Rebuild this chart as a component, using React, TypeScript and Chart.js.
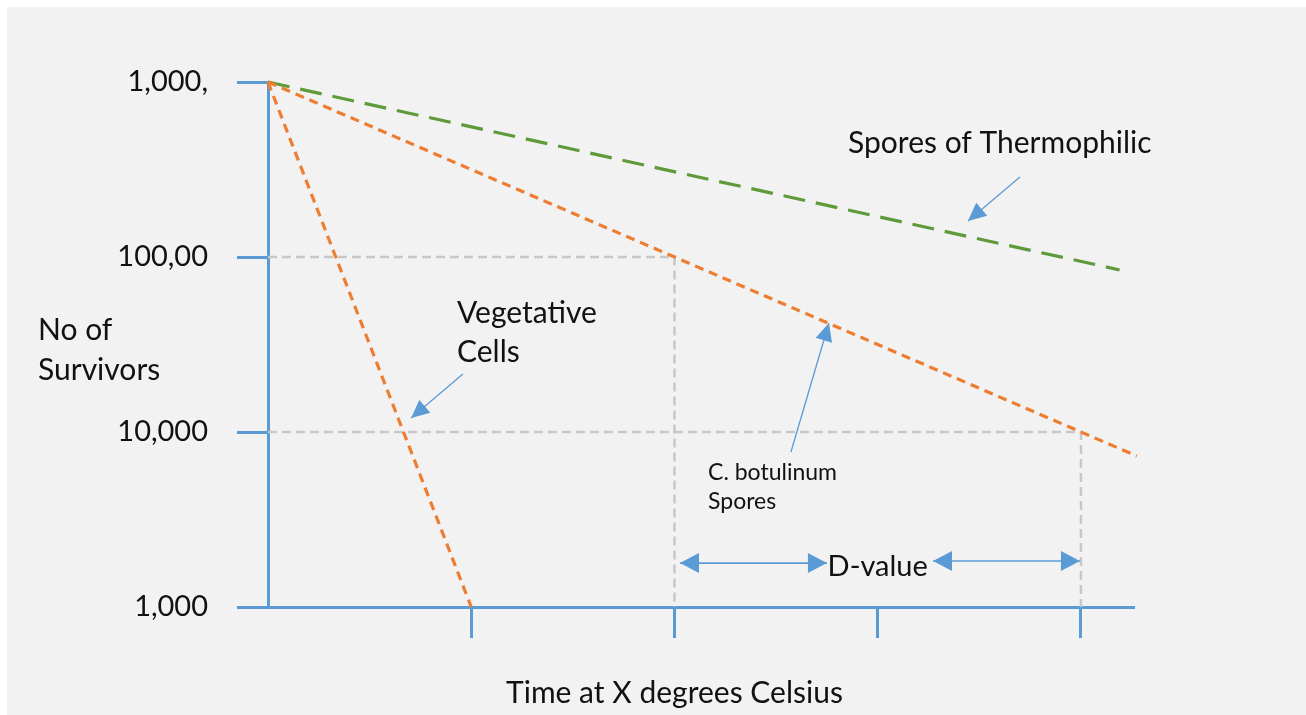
import React, { useEffect, useRef } from "react";
import { Chart, registerables } from "chart.js";

Chart.register(...registerables);

// ---- data (x = time units, y = log10 decades above the lowest level) ----
const vegetativeX = [0, 1];
const vegetativeY = [3, 0];
const botulinumX = [0, 4.275];
const botulinumY = [3, 0.8625];
const thermophilicX = [0, 4.19];
const thermophilicY = [3, 1.926];
const guide1X = [0, 2, 2];
const guide1Y = [2, 2, 0];
const guide2X = [0, 4, 4];
const guide2Y = [1, 1, 0];
const xTickValues = [0, 1, 2, 3, 4];
const yTickValues = [0, 1, 2, 3];
const yTickLabels = ["1,000", "10,000", "100,00", "1,000,"];
const xTitle = "Time at X degrees Celsius";
const yTitleLines = ["No of", "Survivors"];

// annotation texts: [text, x, y, fontSize, align]
const annotationTexts: [string, number, number, number, CanvasTextAlign][] = [
  ["Spores of Thermophilic", 2.854, 2.651, 30, "left"],
  ["Vegetative", 0.93, 1.68, 30, "left"],
  ["Cells", 0.93, 1.457, 30, "left"],
  ["C. botulinum", 2.165, 0.766, 23, "left"],
  ["Spores", 2.165, 0.6, 23, "left"],
  ["D-value", 3.0, 0.229, 29, "center"],
  [yTitleLines[0], -1.1316, 1.583, 30, "left"],
  [yTitleLines[1], -1.1316, 1.354, 30, "left"],
  [xTitle, 2.0, -0.491, 30, "center"],
];

// arrows: [tailX, tailY, headX, headY, doubleHeaded]
const annotationArrows: [number, number, number, number, boolean][] = [
  [3.7, 2.457, 3.444, 2.206, false],
  [0.959, 1.331, 0.704, 1.08, false],
  [2.573, 0.886, 2.76, 1.623, false],
  [2.027, 0.251, 2.75, 0.251, true],
  [3.272, 0.263, 3.995, 0.263, true],
];

const BLUE = "#5b9bd5";
const ORANGE = "#ed7d31";
const GREEN = "#5e9a3a";
const GRAY = "#c8c8c8";
const FONT = "Lato, 'Open Sans', sans-serif";

const toPoints = (xs: number[], ys: number[]) => xs.map((x, i) => ({ x, y: ys[i] }));

function drawHead(ctx: CanvasRenderingContext2D, x1: number, y1: number, x2: number, y2: number, len: number, w: number) {
  const a = Math.atan2(y2 - y1, x2 - x1);
  const bx = x2 - len * Math.cos(a);
  const by = y2 - len * Math.sin(a);
  const px = -Math.sin(a) * (w / 2);
  const py = Math.cos(a) * (w / 2);
  ctx.beginPath();
  ctx.moveTo(x2, y2);
  ctx.lineTo(bx + px, by + py);
  ctx.lineTo(bx - px, by - py);
  ctx.closePath();
  ctx.fill();
}

const annotationPlugin = {
  id: "annotations",
  afterDatasetsDraw(chart: any) {
    const { ctx, scales } = chart;
    const xs = scales.x;
    const ys = scales.y;
    ctx.save();
    ctx.fillStyle = "#111";
    ctx.textBaseline = "middle";
    for (const [t, x, y, size, align] of annotationTexts) {
      ctx.font = `${size}px ${FONT}`;
      ctx.textAlign = align;
      ctx.fillText(t, xs.getPixelForValue(x), ys.getPixelForValue(y));
    }
    ctx.strokeStyle = BLUE;
    ctx.fillStyle = BLUE;
    for (const [tx, ty, hx, hy, dbl] of annotationArrows) {
      const x1 = xs.getPixelForValue(tx);
      const y1 = ys.getPixelForValue(ty);
      const x2 = xs.getPixelForValue(hx);
      const y2 = ys.getPixelForValue(hy);
      const len = dbl ? 19 : 18;
      const w = dbl ? 20 : 17;
      ctx.lineWidth = dbl ? 1.6 : 1.3;
      ctx.beginPath();
      ctx.moveTo(x1, y1);
      ctx.lineTo(x2, y2);
      ctx.stroke();
      drawHead(ctx, x1, y1, x2, y2, len, w);
      if (dbl) drawHead(ctx, x2, y2, x1, y1, len, w);
    }
    ctx.restore();
  },
};

export default function App() {
  const ref = useRef<HTMLCanvasElement | null>(null);
  useEffect(() => {
    if (!ref.current) return;
    const chart = new Chart(ref.current, {
      type: "line",
      data: {
        datasets: [
          {
            data: toPoints(vegetativeX, vegetativeY),
            borderColor: ORANGE,
            borderWidth: 3.2,
            borderDash: [9, 6],
            pointRadius: 0,
            clip: false as any,
          },
          {
            data: toPoints(botulinumX, botulinumY),
            borderColor: ORANGE,
            borderWidth: 3.2,
            borderDash: [9, 6],
            pointRadius: 0,
            clip: false as any,
          },
          {
            data: toPoints(thermophilicX, thermophilicY),
            borderColor: GREEN,
            borderWidth: 3.2,
            borderDash: [22, 11],
            pointRadius: 0,
            clip: false as any,
          },
          {
            data: toPoints(guide1X, guide1Y),
            borderColor: GRAY,
            borderWidth: 2.5,
            borderDash: [9, 5],
            pointRadius: 0,
            tension: 0,
          },
          {
            data: toPoints(guide2X, guide2Y),
            borderColor: GRAY,
            borderWidth: 2.5,
            borderDash: [9, 5],
            pointRadius: 0,
            tension: 0,
          },
        ],
      },
      options: {
        responsive: false,
        animation: false,
        devicePixelRatio: 1,
        layout: { padding: { top: 75, right: 173, left: 0, bottom: 0 } },
        plugins: { legend: { display: false }, tooltip: { enabled: false } },
        scales: {
          x: {
            type: "linear",
            min: 0,
            max: 4.256,
            afterFit: (s: any) => {
              s.height = 108;
            },
            afterBuildTicks: (s: any) => {
              s.ticks = xTickValues.map((v) => ({ value: v }));
            },
            ticks: { display: false },
            grid: {
              drawOnChartArea: false,
              drawTicks: true,
              tickLength: 31,
              lineWidth: 3,
              color: (c: any) => (c.tick && c.tick.value > 0 ? BLUE : "rgba(0,0,0,0)"),
            },
            border: { display: true, color: BLUE, width: 3 },
          },
          y: {
            type: "linear",
            min: 0,
            max: 3,
            afterFit: (s: any) => {
              s.width = 261;
            },
            afterBuildTicks: (s: any) => {
              s.ticks = yTickValues.map((v) => ({ value: v }));
            },
            ticks: {
              color: "#111",
              font: { family: FONT, size: 29 },
              padding: 29,
              callback: (v: any) => yTickLabels[v] ?? "",
            },
            grid: {
              drawOnChartArea: false,
              drawTicks: true,
              tickLength: 31,
              lineWidth: 3,
              color: BLUE,
            },
            border: { display: true, color: BLUE, width: 3 },
          },
        },
      },
      plugins: [annotationPlugin],
    } as any);
    return () => chart.destroy();
  }, []);
  return (
    <div style={{ position: "absolute", left: 0, top: 0, width: 1306, height: 715, background: "#ffffff" }}>
      <div style={{ position: "absolute", left: 7, top: 7, width: 1299, height: 708, background: "#f2f2f2" }}>
        <canvas ref={ref} width={1299} height={708} style={{ display: "block" }} />
      </div>
    </div>
  );
}
